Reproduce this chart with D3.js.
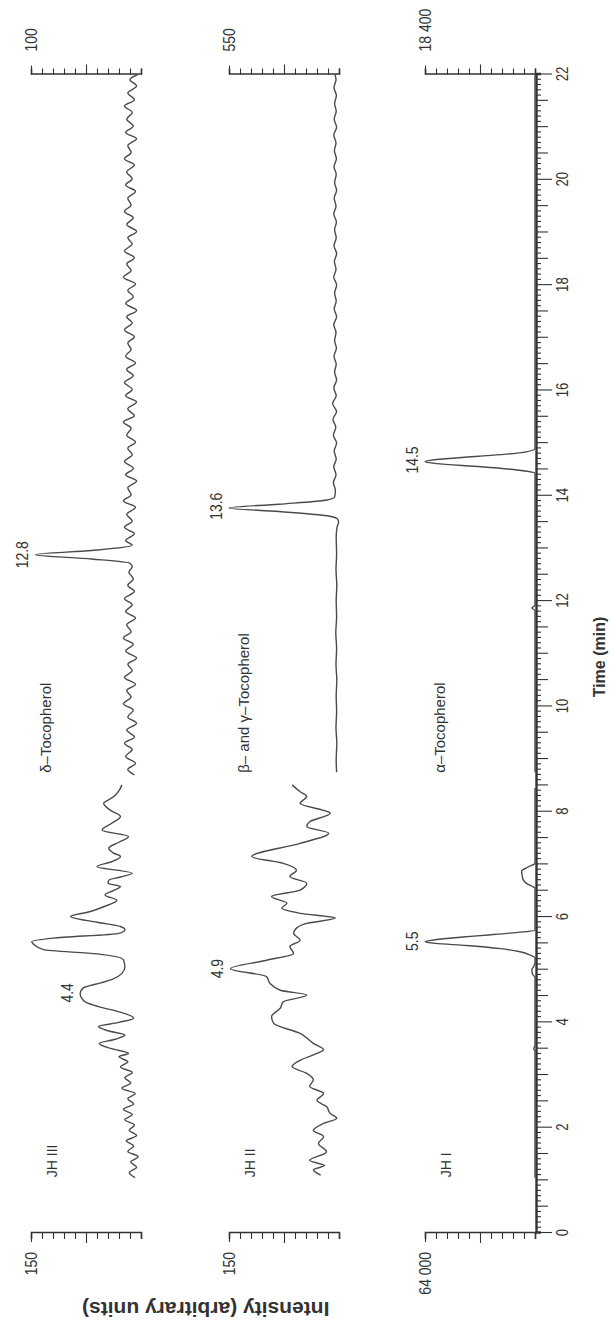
<!DOCTYPE html>
<html><head><meta charset="utf-8">
<script src="https://cdn.jsdelivr.net/npm/d3@7"></script>
<style>body{margin:0;background:#fff}svg{display:block}</style>
</head><body>
<svg id="chart" width="611" height="1327"></svg>
<script>
// ---------- DATA (time in min, intensity in arbitrary units) ----------
const jh3 = [[1.05,8],[1.15,16],[1.25,6],[1.35,14],[1.45,4],[1.55,18],[1.65,10],[1.75,20],[1.85,6],[1.95,16],[2.05,9],[2.15,22],[2.25,12],[2.35,24],[2.45,10],[2.55,18],[2.65,8],[2.75,26],[2.85,14],[2.95,22],[3.05,12],[3.15,28],[3.25,18],[3.35,30],[3.41,17],[3.5,40],[3.6,57],[3.68,35],[3.76,22],[3.84,45],[3.92,58],[4.0,30],[4.08,10],[4.2,30],[4.3,58],[4.38,75],[4.46,81],[4.55,83],[4.65,79],[4.75,55],[4.81,40],[4.93,26],[5.05,22],[5.19,24],[5.3,60],[5.38,133],[5.48,146],[5.53,149],[5.6,120],[5.69,30],[5.76,22],[5.82,28],[5.9,60],[6.01,96],[6.1,70],[6.2,50],[6.32,33],[6.42,49],[6.5,38],[6.58,28],[6.64,45],[6.7,44],[6.76,28],[6.83,12],[6.96,60],[7.05,40],[7.15,28],[7.22,38],[7.31,44],[7.42,30],[7.53,17],[7.65,53],[7.78,40],[7.91,28],[8.03,42],[8.16,51],[8.22,45],[8.29,37],[8.4,30],[8.51,26]];
const delta = [[8.7,6],[8.8,12],[8.92,5],[9.05,14],[9.18,8],[9.3,15],[9.42,6],[9.55,13],[9.68,4],[9.8,12],[9.93,7],[10.05,16],[10.18,9],[10.3,13],[10.42,5],[10.55,15],[10.68,8],[10.8,12],[10.92,4],[11.05,14],[11.18,7],[11.3,16],[11.42,9],[11.55,13],[11.68,5],[11.8,14],[11.93,8],[12.05,15],[12.18,6],[12.3,12],[12.42,7],[12.55,11],[12.65,8],[12.72,10],[12.8,45],[12.88,96],[12.96,45],[13.06,8],[13.15,14],[13.28,6],[13.4,15],[13.52,8],[13.65,13],[13.78,5],[13.9,16],[14.02,9],[14.15,12],[14.28,4],[14.4,14],[14.52,7],[14.65,15],[14.78,8],[14.9,12],[15.02,5],[15.15,13],[15.28,9],[15.4,16],[15.52,6],[15.65,12],[15.78,4],[15.9,14],[16.02,8],[16.15,15],[16.28,7],[16.4,13],[16.52,5],[16.65,14],[16.78,9],[16.9,12],[17.02,6],[17.15,15],[17.28,8],[17.4,13],[17.52,4],[17.65,14],[17.78,7],[17.9,12],[18.02,5],[18.15,16],[18.28,9],[18.4,13],[18.52,6],[18.65,15],[18.78,8],[18.9,12],[19.02,4],[19.15,13],[19.28,7],[19.4,15],[19.52,9],[19.65,12],[19.78,5],[19.9,14],[20.02,8],[20.15,13],[20.28,6],[20.4,15],[20.52,9],[20.65,12],[20.78,4],[20.9,14],[21.02,7],[21.15,13],[21.28,8],[21.4,15],[21.52,6],[21.65,12],[21.78,4],[21.9,10],[22.0,3]];
const jh2 = [[1.1,25],[1.2,35],[1.28,20],[1.38,40],[1.54,17],[1.7,28],[1.83,21],[1.95,35],[2.08,21],[2.18,3],[2.27,12],[2.4,17],[2.52,30],[2.65,21],[2.78,40],[2.91,35],[3.03,44],[3.16,64],[3.28,53],[3.41,30],[3.48,21],[3.6,35],[3.79,53],[3.98,89],[4.11,92],[4.27,80],[4.39,76],[4.52,44],[4.61,80],[4.74,94],[4.87,99],[5.02,148],[5.18,99],[5.31,62],[5.44,67],[5.56,53],[5.69,62],[5.79,58],[5.88,44],[5.98,5],[6.07,53],[6.17,78],[6.26,71],[6.39,92],[6.51,53],[6.64,44],[6.77,67],[6.89,58],[7.02,76],[7.15,119],[7.4,53],[7.59,14],[7.72,44],[7.81,40],[7.97,12],[8.16,53],[8.29,44],[8.38,53],[8.51,64]];
const betaGamma = [[8.75,12],[9.0,14],[9.3,11],[9.6,15],[9.9,12],[10.2,14],[10.5,11],[10.8,15],[11.1,12],[11.4,16],[11.7,12],[12.0,14],[12.3,11],[12.6,15],[12.9,12],[13.2,14],[13.4,10],[13.5,2],[13.56,8],[13.62,60],[13.7,300],[13.77,550],[13.84,300],[13.92,60],[13.98,22],[14.1,18],[14.25,28],[14.4,15],[14.55,26],[14.7,14],[14.85,24],[15.0,12],[15.15,28],[15.3,16],[15.45,30],[15.6,12],[15.75,32],[15.9,14],[16.05,26],[16.2,12],[16.35,22],[16.5,14],[16.65,25],[16.8,13],[16.95,22],[17.1,15],[17.25,26],[17.4,12],[17.55,24],[17.7,14],[17.85,22],[18.0,12],[18.15,26],[18.3,15],[18.45,23],[18.6,12],[18.75,25],[18.9,14],[19.05,22],[19.2,13],[19.35,26],[19.5,15],[19.65,24],[19.8,12],[19.95,22],[20.1,14],[20.25,25],[20.4,13],[20.55,23],[20.7,15],[20.85,26],[21.0,12],[21.15,24],[21.3,14],[21.45,22],[21.6,13],[21.75,25],[21.9,15],[22.0,20]];
const jh1 = [[1.05,0],[3.45,0],[3.5,700],[3.56,0],[4.85,0],[4.92,1500],[5.0,1800],[5.07,600],[5.14,0],[5.22,0],[5.28,3000],[5.34,8700],[5.4,20000],[5.46,40000],[5.5,58000],[5.53,64000],[5.57,58000],[5.62,42000],[5.66,27000],[5.7,13000],[5.75,0],[6.55,0],[6.58,1500],[6.64,5000],[6.72,7000],[6.8,7500],[6.87,7800],[6.95,4000],[7.02,0],[8.45,0]];
const alpha = [[8.75,0],[11.82,0],[11.87,500],[11.92,0],[14.43,0],[14.49,3000],[14.55,9000],[14.61,16500],[14.65,18400],[14.69,16500],[14.75,9500],[14.81,3000],[14.9,0],[22.0,0]];

const panelNames = ["JH III", "JH II", "JH I"];
const chemNames = ["δ–Tocopherol", "β– and γ–Tocopherol", "α–Tocopherol"];
const leftMax = [150, 150, 64000];
const rightMax = [100, 550, 18400];
const leftMaxLabels = ["150", "150", "64 000"];
const rightMaxLabels = ["100", "550", "18 400"];
const leftSeries = [jh3, jh2, jh1];
const rightSeries = [delta, betaGamma, alpha];
// peak annotations: [time, peak intensity, text, which scale]
const peakLabels = [
  [[4.56, 83, "4.4", "L"], [12.88, 96, "12.8", "R"]],
  [[5.02, 148, "4.9", "L"], [13.8, 550, "13.6", "R"]],
  [[5.54, 64000, "5.5", "L"], [14.68, 18400, "14.5", "R"]]
];
const timeDomain = [0, 22];
const timeLabels = [0, 2, 4, 6, 8, 10, 12, 14, 16, 18, 20, 22];
const xTitle = "Time (min)";
const yTitle = "Intensity (arbitrary units)";

// ---------- LAYOUT (chart drawn landscape, then rotated -90°) ----------
const W = 1327;
const sans = "'Liberation Sans',Arial,Helvetica,sans-serif";
const ink = "#333", traceInk = "#4a4a4a";
const svg = d3.select("#chart");
const root = svg.append("g").attr("transform", `translate(0,${W}) rotate(-90)`);

// narrow-face look: compress glyphs horizontally
function squeeze(sel, f) {
  sel.each(function () {
    const L = this.getComputedTextLength();
    if (L > 0) d3.select(this).attr("textLength", L * f).attr("lengthAdjust", "spacingAndGlyphs");
  });
}

const x = d3.scaleLinear().domain(timeDomain).range([94, 1252.5]);
const panelTops = [31, 229, 425];
const panelH = 110;
const axisY = 536;

// time axis
const minorTicks = d3.range(0, 221).map(i => i / 10);
const tAxis = root.append("g").attr("transform", `translate(0,${axisY})`)
  .call(d3.axisBottom(x).tickValues(minorTicks).tickSizeOuter(0).tickSize(5).tickPadding(16)
    .tickFormat(d => (Math.abs(d - Math.round(d)) < 1e-6 && timeLabels.includes(Math.round(d))) ? d3.format("d")(d) : ""));
tAxis.select(".domain").attr("stroke", ink).attr("stroke-width", 2.4);
tAxis.selectAll(".tick line").attr("stroke", ink).attr("stroke-width", 1.1)
  .attr("y2", d => {
    const i = Math.round(d * 10);
    return i % 20 === 0 ? 16 : (i % 5 === 0 ? 12 : 5);
  });
tAxis.selectAll(".tick text").attr("fill", ink).style("font-family", sans).style("font-size", "16px")
  .call(squeeze, 0.82);

root.append("text").attr("x", 670).attr("y", 605)
  .attr("text-anchor", "middle").style("font-family", sans).style("font-weight", "bold")
  .style("font-size", "16px").attr("fill", ink).text(xTitle);

root.append("text").attr("transform", "translate(25,82) rotate(-90)")
  .attr("text-anchor", "end").style("font-family", sans).style("font-weight", "bold")
  .style("font-size", "21px").attr("fill", ink).text(yTitle);

const line = d3.line().curve(d3.curveMonotoneX);

panelTops.forEach((top, p) => {
  const yL = d3.scaleLinear().domain([0, leftMax[p]]).range([top + panelH, top]);
  const yR = d3.scaleLinear().domain([0, rightMax[p]]).range([top + panelH, top]);
  const tickLen = i => (i === 5 ? 10 : (i === 10 ? 9 : 6));

  const la = root.append("g").attr("transform", `translate(${x(0)},0)`)
    .call(d3.axisLeft(yL).tickValues(d3.range(0, 11).map(i => leftMax[p] * i / 10))
      .tickSizeOuter(0).tickSize(6).tickPadding(13)
      .tickFormat(d => d === leftMax[p] ? leftMaxLabels[p] : ""));
  la.select(".domain").attr("stroke", ink).attr("stroke-width", 1.6);
  la.selectAll(".tick line").attr("stroke", ink).attr("stroke-width", 1.1)
    .attr("x2", (d, i) => -tickLen(i));
  la.selectAll(".tick text").attr("fill", ink).style("font-family", sans).style("font-size", "17px")
    .call(squeeze, 0.82);

  const ra = root.append("g").attr("transform", `translate(${x(22)},0)`)
    .call(d3.axisRight(yR).tickValues(d3.range(0, 11).map(i => rightMax[p] * i / 10))
      .tickSizeOuter(0).tickSize(6).tickPadding(17)
      .tickFormat(d => d === rightMax[p] ? rightMaxLabels[p] : ""));
  ra.select(".domain").attr("stroke", ink).attr("stroke-width", 1.6);
  ra.selectAll(".tick line").attr("stroke", ink).attr("stroke-width", 1.1)
    .attr("x2", (d, i) => tickLen(i));
  ra.selectAll(".tick text").attr("fill", ink).style("font-family", sans).style("font-size", "17px")
    .call(squeeze, 0.82);

  root.append("path").attr("fill", "none").attr("stroke", traceInk).attr("stroke-width", 1.4)
    .attr("stroke-linejoin", "round")
    .attr("d", line(leftSeries[p].map(d => [x(d[0]), yL(d[1])])));
  root.append("path").attr("fill", "none").attr("stroke", traceInk).attr("stroke-width", 1.4)
    .attr("stroke-linejoin", "round")
    .attr("d", line(rightSeries[p].map(d => [x(d[0]), yR(d[1])])));

  root.append("text").attr("x", x(1.06)).attr("y", top + 26)
    .style("font-family", sans).style("font-size", "14px").attr("fill", ink).text(panelNames[p]);
  root.append("text").attr("x", x(8.74)).attr("y", top + 20)
    .style("font-family", sans).style("font-size", "15px").attr("fill", ink).text(chemNames[p]);

  peakLabels[p].forEach(([t, v, txt, side]) => {
    const ys = side === "L" ? yL : yR;
    root.append("text").attr("x", x(t)).attr("y", ys(v) - 7).attr("text-anchor", "middle")
      .style("font-family", sans).style("font-size", "17px").attr("fill", ink).text(txt)
      .call(squeeze, 0.82);
  });
});
</script>
</body></html>
